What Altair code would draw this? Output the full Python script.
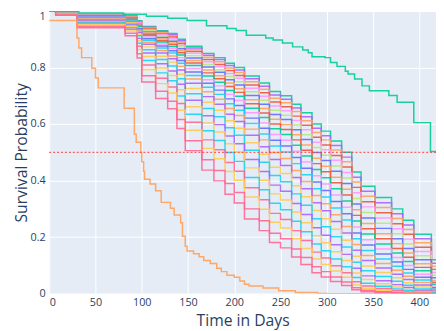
import altair as alt
import pandas as pd

# shared step times (days) for the bundle of curves (last entry extends the final step)
times = [0, 7, 30, 82, 95, 100, 115, 128, 138, 147, 165, 178, 190, 200, 211, 227, 238, 250,
         262, 272, 284, 294, 304, 316, 327, 337, 352, 370, 382, 394, 413, 430]

k100 = [1, .997, .988, .982, .965, .945, .930, .920, .900, .875, .850, .835, .815, .800, .770, .745, .715, .700, .670, .640, .600, .575, .540, .500, .430, .380, .340, .300, .260, .210, .120]
k105 = [1, .997, .987, .981, .963, .942, .927, .916, .895, .869, .843, .828, .807, .791, .760, .734, .703, .688, .657, .626, .585, .559, .524, .483, .412, .362, .322, .283, .243, .194, .108]
k110 = [1, .997, .987, .980, .962, .940, .923, .912, .891, .863, .836, .820, .798, .782, .750, .723, .691, .675, .644, .612, .570, .544, .508, .467, .395, .345, .305, .266, .227, .180, .097]
k116 = [1, .997, .986, .979, .960, .936, .919, .908, .885, .857, .828, .811, .789, .772, .738, .711, .678, .661, .628, .596, .553, .526, .489, .448, .376, .325, .286, .247, .210, .164, .086]
k122 = [1, .996, .986, .978, .958, .933, .915, .903, .879, .850, .820, .803, .779, .762, .727, .698, .664, .647, .613, .580, .536, .509, .472, .429, .357, .307, .268, .230, .193, .149, .075]
k129 = [1, .996, .985, .977, .955, .930, .911, .898, .873, .842, .811, .792, .768, .750, .714, .684, .649, .631, .597, .562, .517, .490, .452, .409, .337, .287, .249, .212, .176, .134, .065]
k136 = [1, .996, .984, .976, .953, .926, .906, .893, .866, .834, .802, .783, .757, .738, .701, .670, .634, .616, .580, .545, .499, .471, .433, .390, .317, .268, .231, .194, .160, .120, .056]
k144 = [1, .996, .983, .974, .950, .922, .901, .887, .859, .825, .791, .771, .745, .725, .686, .655, .617, .598, .562, .526, .479, .451, .412, .369, .297, .248, .212, .177, .144, .106, .047]
k152 = [1, .995, .982, .973, .947, .918, .895, .881, .852, .816, .781, .760, .733, .712, .672, .639, .600, .581, .544, .507, .460, .431, .392, .349, .277, .230, .194, .160, .129, .093, .040]
k161 = [1, .995, .981, .971, .944, .913, .890, .874, .844, .807, .770, .748, .719, .698, .656, .623, .583, .563, .525, .487, .439, .410, .371, .328, .257, .211, .176, .144, .114, .081, .033]
k171 = [1, .995, .980, .970, .941, .908, .883, .867, .835, .796, .757, .735, .705, .683, .640, .604, .563, .543, .504, .466, .417, .388, .349, .306, .236, .191, .158, .128, .100, .069, .027]
k182 = [1, .995, .978, .968, .937, .902, .876, .859, .825, .784, .744, .720, .689, .666, .621, .585, .543, .522, .482, .444, .395, .365, .326, .283, .215, .172, .140, .112, .086, .058, .021]
k194 = [1, .994, .977, .966, .933, .896, .869, .851, .815, .772, .730, .705, .672, .649, .602, .565, .522, .501, .460, .421, .371, .342, .303, .261, .194, .153, .123, .097, .073, .048, .016]
k207 = [1, .994, .976, .963, .929, .889, .860, .841, .804, .759, .714, .688, .655, .630, .582, .544, .499, .478, .436, .397, .347, .318, .279, .238, .174, .135, .107, .083, .062, .040, .012]
k222 = [1, .993, .974, .961, .924, .882, .851, .831, .791, .744, .697, .670, .635, .609, .560, .520, .475, .453, .411, .371, .322, .293, .255, .215, .154, .117, .091, .069, .050, .031, .009]
k240 = [1, .993, .972, .958, .918, .873, .840, .819, .776, .726, .677, .649, .612, .585, .534, .493, .447, .425, .382, .343, .294, .265, .228, .189, .132, .098, .075, .056, .039, .024, .006]
k260 = [1, .992, .969, .954, .912, .863, .828, .805, .760, .707, .655, .626, .587, .560, .507, .465, .418, .396, .353, .313, .265, .237, .201, .165, .111, .081, .061, .044, .030, .017, .004]
k285 = [1, .991, .966, .950, .903, .851, .813, .788, .741, .684, .629, .598, .558, .530, .475, .432, .384, .362, .319, .280, .233, .207, .173, .139, .090, .063, .046, .032, .022, .012, .002]
k310 = [1, .991, .963, .946, .895, .839, .798, .772, .721, .661, .604, .572, .530, .501, .445, .401, .353, .331, .289, .251, .205, .180, .148, .117, .073, .050, .035, .024, .015, .008, .001]
k340 = [1, .990, .960, .941, .886, .825, .781, .753, .699, .635, .576, .542, .499, .468, .411, .368, .320, .297, .256, .219, .176, .152, .123, .095, .057, .037, .026, .017, .010, .005, .001]
k375 = [1, .989, .956, .935, .875, .809, .762, .731, .673, .606, .544, .509, .464, .433, .375, .332, .284, .262, .223, .188, .147, .126, .099, .074, .042, .027, .018, .011, .006, .003, 0]
k410 = [1, .988, .952, .929, .864, .793, .743, .710, .649, .578, .514, .477, .432, .401, .342, .299, .253, .232, .194, .160, .123, .103, .080, .058, .031, .019, .012, .007, .004, .002, 0]
k460 = [1, .986, .946, .921, .849, .771, .716, .681, .616, .541, .474, .436, .390, .358, .300, .258, .214, .194, .158, .128, .095, .078, .059, .041, .021, .012, .007, .004, .002, .001, 0]
k510 = [1, .985, .941, .912, .834, .749, .690, .654, .584, .506, .437, .399, .352, .321, .264, .223, .181, .162, .130, .103, .074, .059, .043, .029, .014, .007, .004, .002, .001, 0, 0]

bundle = [k100, k105, k110, k116, k122, k129, k136, k144, k152, k161, k171, k182,
          k194, k207, k222, k240, k260, k285, k310, k340, k375, k410, k460, k510]
bundle_colors = ["#00CC96", "#AB63FA", "#FFA15A", "#EF553B", "#FF97FF", "#B6E880",
                 "#636EFA", "#FFA15A", "#EF553B", "#00CC96", "#FF97FF", "#636EFA",
                 "#19D3F3", "#FFA15A", "#AB63FA", "#FECB52", "#19D3F3", "#AB63FA",
                 "#FECB52", "#19D3F3", "#FF6692", "#FECB52", "#FF6692", "#FF6692"]

# top outlier (green)
green_t = [0, 32, 80, 105, 128, 149, 170, 192, 202, 213, 234, 242, 252, 263, 274, 280, 284,
           298, 304, 311, 320, 323, 330, 338, 346, 367, 376, 394, 412, 430]
green_s = [1.0, 0.993, 0.988, 0.981, 0.974, 0.966, 0.948, 0.938, 0.931, 0.914, 0.904, 0.897,
           0.887, 0.873, 0.862, 0.852, 0.838, 0.835, 0.818, 0.804, 0.787, 0.777, 0.759,
           0.735, 0.718, 0.701, 0.677, 0.605, 0.503, 0.503]

# bottom outlier (orange)
orange_t = [0, 30, 32, 35, 46, 50, 53, 81, 92, 94, 99, 100, 102, 103, 109, 115, 121, 131, 135,
            142, 144, 147, 149, 156, 162, 167, 174, 181, 186, 192, 200, 206, 211, 216, 231,
            248, 266, 290, 300, 430]
orange_s = [0.966, 0.904, 0.869, 0.835, 0.797, 0.763, 0.728, 0.656, 0.564, 0.536, 0.50, 0.467,
            0.433, 0.405, 0.388, 0.364, 0.323, 0.302, 0.278, 0.251, 0.203, 0.168, 0.151,
            0.141, 0.131, 0.117, 0.107, 0.090, 0.078, 0.065, 0.058, 0.045, 0.033, 0.027,
            0.020, 0.010, 0.004, 0.001, 0.0, 0.0]

rows = []
names = []
colors = []
for i, vals in enumerate(bundle):
    name = f"g{i:02d}"
    names.append(name)
    colors.append(bundle_colors[i])
    full = vals + [vals[-1]]
    for t, s in zip(times, full):
        rows.append({"series": name, "t": t, "s": s})
for name, col, ts, ss in [("zgreen", "#00CC96", green_t, green_s),
                          ("zorange", "#FFA15A", orange_t, orange_s)]:
    names.append(name)
    colors.append(col)
    for t, s in zip(ts, ss):
        rows.append({"series": name, "t": t, "s": s})
df = pd.DataFrame(rows)

FONT = "Open Sans"
TXT = "#2a3f5f"

x_axis = alt.Axis(values=list(range(0, 401, 50)), grid=True, gridColor="white", gridWidth=1,
                  domain=False, ticks=False, labelFontSize=11, labelColor=TXT, labelFont=FONT,
                  labelPadding=3, title="Time in Days", titleFontSize=16, titleFont=FONT,
                  titleFontWeight="normal", titleColor=TXT, titlePadding=5)
y_axis = alt.Axis(values=[0, 0.2, 0.4, 0.6, 0.8, 1.0], format="~g", grid=True, gridColor="white",
                  gridWidth=1, domain=False, ticks=False, labelFontSize=11, labelColor=TXT,
                  labelFont=FONT, labelPadding=4,
                  labelBaseline=alt.condition("datum.value == 1", alt.value("top"), alt.value("middle")),
                  title="Survival Probability", titleFontSize=16,
                  titleFont=FONT, titleFontWeight="normal", titleColor=TXT, titlePadding=1)

lines = alt.Chart(df).mark_line(interpolate="step-after", strokeWidth=1.5, clip=True,
                                opacity=0.9).encode(
    x=alt.X("t:Q", scale=alt.Scale(domain=[0, 418], nice=False, zero=False), axis=x_axis),
    y=alt.Y("s:Q", scale=alt.Scale(domain=[0, 1], nice=False), axis=y_axis),
    color=alt.Color("series:N", scale=alt.Scale(domain=names, range=colors), legend=None),
    detail="series:N",
)

ref = alt.Chart(pd.DataFrame({"y": [0.5]})).mark_rule(
    color="#ff3b3b", strokeDash=[2, 2], strokeWidth=1).encode(y="y:Q")

chart = alt.layer(lines, ref).properties(
    width=394, height=288,
    autosize=alt.AutoSizeParams(type="none"),
    padding={"left": 42, "top": 0, "right": 0, "bottom": 35},
).configure_view(fill="#E5ECF6", stroke=None)

chart.save("out.html", embed_options={"renderer": "svg", "actions": False})
